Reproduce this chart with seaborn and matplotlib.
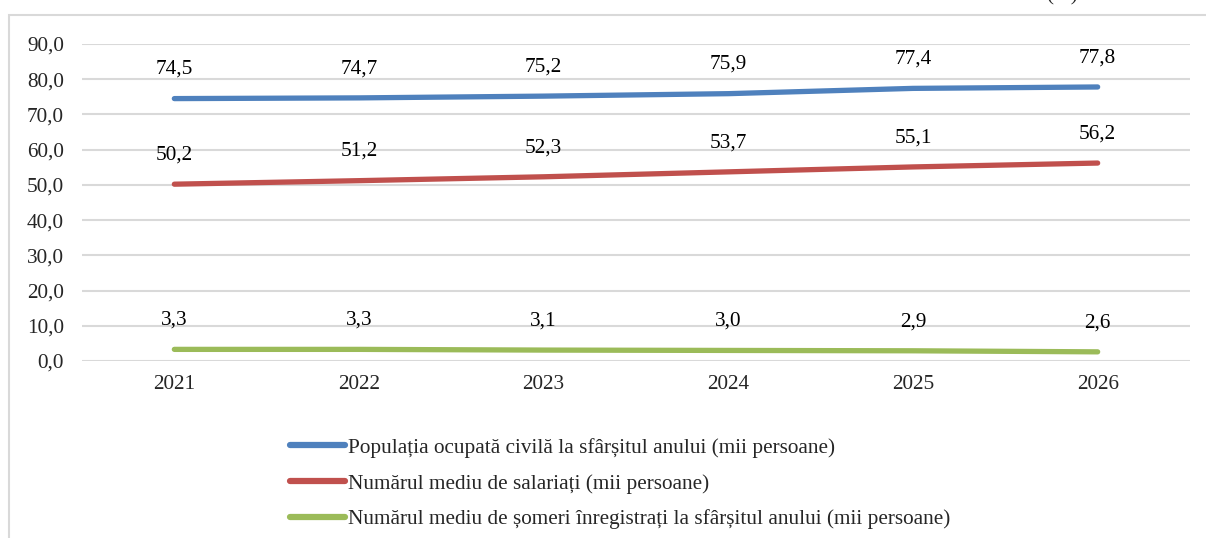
import matplotlib
matplotlib.use("Agg")
import matplotlib.pyplot as plt
import seaborn as sns
import pandas as pd
from matplotlib.patches import Rectangle

years = ["2021", "2022", "2023", "2024", "2025", "2026"]
populatia = [74.5, 74.7, 75.2, 75.9, 77.4, 77.8]
salariati = [50.2, 51.2, 52.3, 53.7, 55.1, 56.2]
someri = [3.3, 3.3, 3.1, 3.0, 2.9, 2.6]
series_names = [
    "Populația ocupată civilă la sfârșitul anului (mii persoane)",
    "Numărul mediu de salariați (mii persoane)",
    "Numărul mediu de șomeri înregistrați la sfârșitul anului (mii persoane)",
]
colors = ["#4F81BD", "#C0504D", "#9BBB59"]
yticks = [0, 10, 20, 30, 40, 50, 60, 70, 80, 90]

sns.set_style("white")
plt.rcParams["font.family"] = ["Liberation Serif", "DejaVu Serif"]
FS = 15.3

rows = []
for name, vals in zip(series_names, [populatia, salariati, someri]):
    for y, v in zip(years, vals):
        rows.append({"An": y, "Valoare": v, "Serie": name})
df = pd.DataFrame(rows)

fig = plt.figure(figsize=(12.06, 5.38), dpi=100)
ax = fig.add_axes([82/1206, 1 - 361/538, (1190-82)/1206, (361-44)/538])

# outer frame
fig.patches.append(Rectangle((9/1206, -0.1), 1.2, 1 - 15/538 + 0.1,
                             transform=fig.transFigure, fill=False,
                             edgecolor="#D9D9D9", linewidth=1.5, zorder=0))

sns.lineplot(data=df, x="An", y="Valoare", hue="Serie", palette=colors,
             linewidth=3.8, ax=ax, sort=False, legend=True)
for line in ax.get_lines():
    line.set_solid_capstyle("round")

ax.set_xlim(-0.5, len(years) - 0.5)
ax.set_ylim(0, 90)
ax.set_yticks(yticks)
ax.set_yticklabels([f"{v:.1f}".replace(".", ",") for v in yticks])
ax.yaxis.grid(True, color="#D9D9D9", linewidth=1.5)
ax.set_axisbelow(True)
for s in ax.spines.values():
    s.set_visible(False)
ax.tick_params(axis="y", length=0, pad=13, labelsize=FS)
ax.tick_params(axis="x", length=0, pad=10, labelsize=FS)
ax.set_xlabel("")
ax.set_ylabel("")

for vals in [populatia, salariati, someri]:
    for i, v in enumerate(vals):
        ax.annotate(f"{v:.1f}".replace(".", ","), (i, v), xytext=(0, 21),
                    textcoords="offset points", ha="center", va="center",
                    fontsize=FS, color="black")

handles, labels = ax.get_legend_handles_labels()
leg = ax.legend(handles, labels, loc="upper left",
                bbox_to_anchor=(290/1206, 1 - 438/538), bbox_transform=fig.transFigure,
                frameon=False, fontsize=FS, handlelength=2.6, handletextpad=0.15,
                labelspacing=0.74, borderaxespad=0, borderpad=0)
for h in leg.get_lines():
    h.set_linewidth(4.5)
    h.set_solid_capstyle("round")

fig.text(1062/1206, 1.0, "(%)", ha="center", va="baseline", fontsize=FS)

fig.savefig("out.png", dpi=100)
